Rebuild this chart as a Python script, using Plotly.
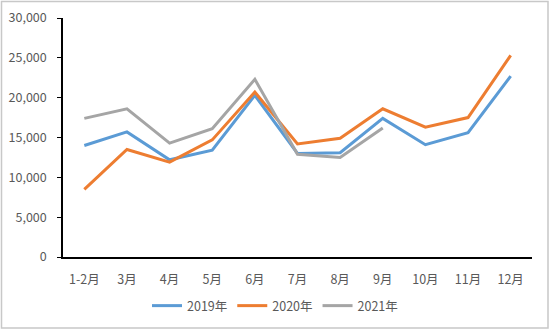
import plotly.graph_objects as go

# Monthly figures by year
months = ["1-2月", "3月", "4月", "5月", "6月", "7月", "8月", "9月", "10月", "11月", "12月"]
y2019 = [14000, 15700, 12200, 13400, 20300, 13000, 13100, 17400, 14100, 15600, 22700]
y2020 = [8500, 13500, 11900, 14700, 20700, 14200, 14900, 18600, 16300, 17500, 25300]
y2021 = [17400, 18600, 14300, 16100, 22300, 12900, 12500, 16200]

series = [
    ("2019年", y2019, "#5B9BD5"),
    ("2020年", y2020, "#ED7D31"),
    ("2021年", y2021, "#A5A5A5"),
]

fig = go.Figure()
for name, vals, color in series:
    fig.add_trace(go.Scatter(
        x=months[:len(vals)], y=vals, name=name, mode="lines",
        line=dict(color=color, width=3),
    ))

L, R, T, B = 63, 18, 18, 73
W, H = 550, 330
pw, ph = W - L - R, H - T - B

font = "Noto Sans CJK SC, Noto Sans, sans-serif"

fig.update_layout(
    width=W, height=H,
    margin=dict(l=L, r=R, t=T, b=B, pad=0),
    paper_bgcolor="white", plot_bgcolor="white",
    font=dict(family=font, size=12, color="#595959"),
    showlegend=True,
    legend=dict(
        orientation="h", xref="container", yref="container",
        x=0.5, xanchor="center", y=1 - 306 / H, yanchor="middle",
        font=dict(size=12.5, color="#595959"),
        tracegroupgap=0,
    ),
    xaxis=dict(
        categoryorder="array", categoryarray=months,
        showgrid=False, showline=True, linecolor="black", linewidth=1.5,
        ticks="", tickfont=dict(size=12.5, color="#595959"),
        ticklabelstandoff=10, automargin=False,
        range=[-0.5, 10.5], zeroline=False,
    ),
    yaxis=dict(
        range=[0, 30000], dtick=5000, tickformat=",",
        showgrid=False, showline=True, linecolor="black", linewidth=1.5,
        ticks="outside", ticklen=4, tickcolor="black",
        ticklabelstandoff=8, automargin=False,
        tickfont=dict(size=12.5, color="#595959"), zeroline=False,
    ),
)

# Light frame around the whole chart
fig.add_shape(
    type="rect", xref="paper", yref="paper",
    x0=-(L - 1.5) / pw, x1=1 + (R - 2) / pw,
    y0=-(B - 2) / ph, y1=1 + (T - 1.5) / ph,
    line=dict(color="#C8C8C8", width=1.5), fillcolor="rgba(0,0,0,0)",
    layer="above",
)

fig.write_html("out.html")
